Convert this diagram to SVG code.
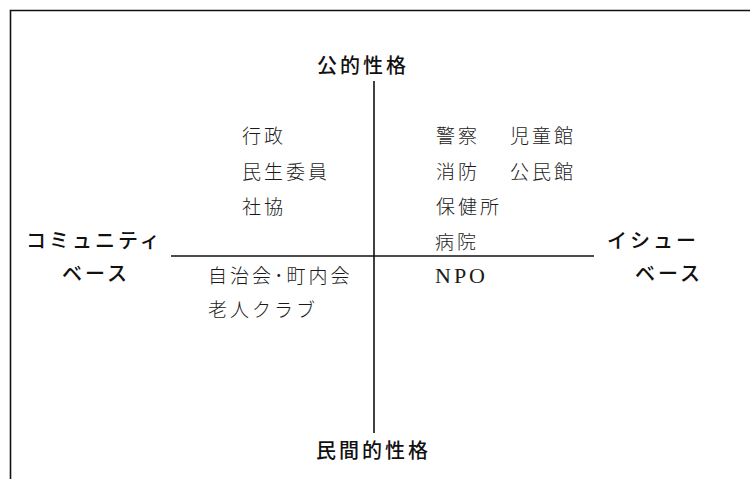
<svg xmlns="http://www.w3.org/2000/svg" width="750" height="479" viewBox="0 0 750 479">
<style>
.frame{fill:none;stroke:#111;stroke-width:1.6}
.axis{stroke:#111;stroke-width:1.6;fill:none}
.lab{font-family:"Noto Sans CJK JP","Noto Sans",sans-serif;font-size:20px;font-weight:500;letter-spacing:3px;fill:#111}
.item{font-family:"Noto Sans CJK JP","Noto Sans",sans-serif;font-size:19px;font-weight:300;letter-spacing:3px;fill:#1a1a1a}
.npo{font-family:"Liberation Serif",serif;font-size:22px;letter-spacing:3px;fill:#1a1a1a}
</style>
<rect width="750" height="479" fill="#fff"/>
<path class="frame" d="M10.5,479 V10.5 H750"/>
<g id="connectors">
<line class="axis" x1="374" y1="81" x2="374" y2="433"/>
<line class="axis" x1="171" y1="256" x2="594" y2="256"/>
</g>
<g id="axis-labels">
<text class="lab" x="317" y="73">公的性格</text>
<text class="lab" x="316" y="458">民間的性格</text>
<text class="lab" x="26" y="248">コミュニティ</text>
<text class="lab" x="62" y="281">ベース</text>
<text class="lab" x="607" y="248">イシュー</text>
<text class="lab" x="635" y="281">ベース</text>
</g>
<g id="node-left-upper">
<text class="item" x="242" y="143">行政</text>
<text class="item" x="242" y="179">民生委員</text>
<text class="item" x="242" y="214">社協</text>
</g>
<g id="node-right-upper">
<text class="item" x="436" y="143">警察</text>
<text class="item" x="510" y="143">児童館</text>
<text class="item" x="436" y="179">消防</text>
<text class="item" x="510" y="179">公民館</text>
<text class="item" x="436" y="214">保健所</text>
<text class="item" x="435" y="249">病院</text>
</g>
<g id="node-left-lower">
<text class="item" x="208" y="283">自治会･町内会</text>
<text class="item" x="208" y="317">老人クラブ</text>
</g>
<g id="node-right-lower">
<text class="npo" x="435" y="283">NPO</text>
</g>
</svg>
